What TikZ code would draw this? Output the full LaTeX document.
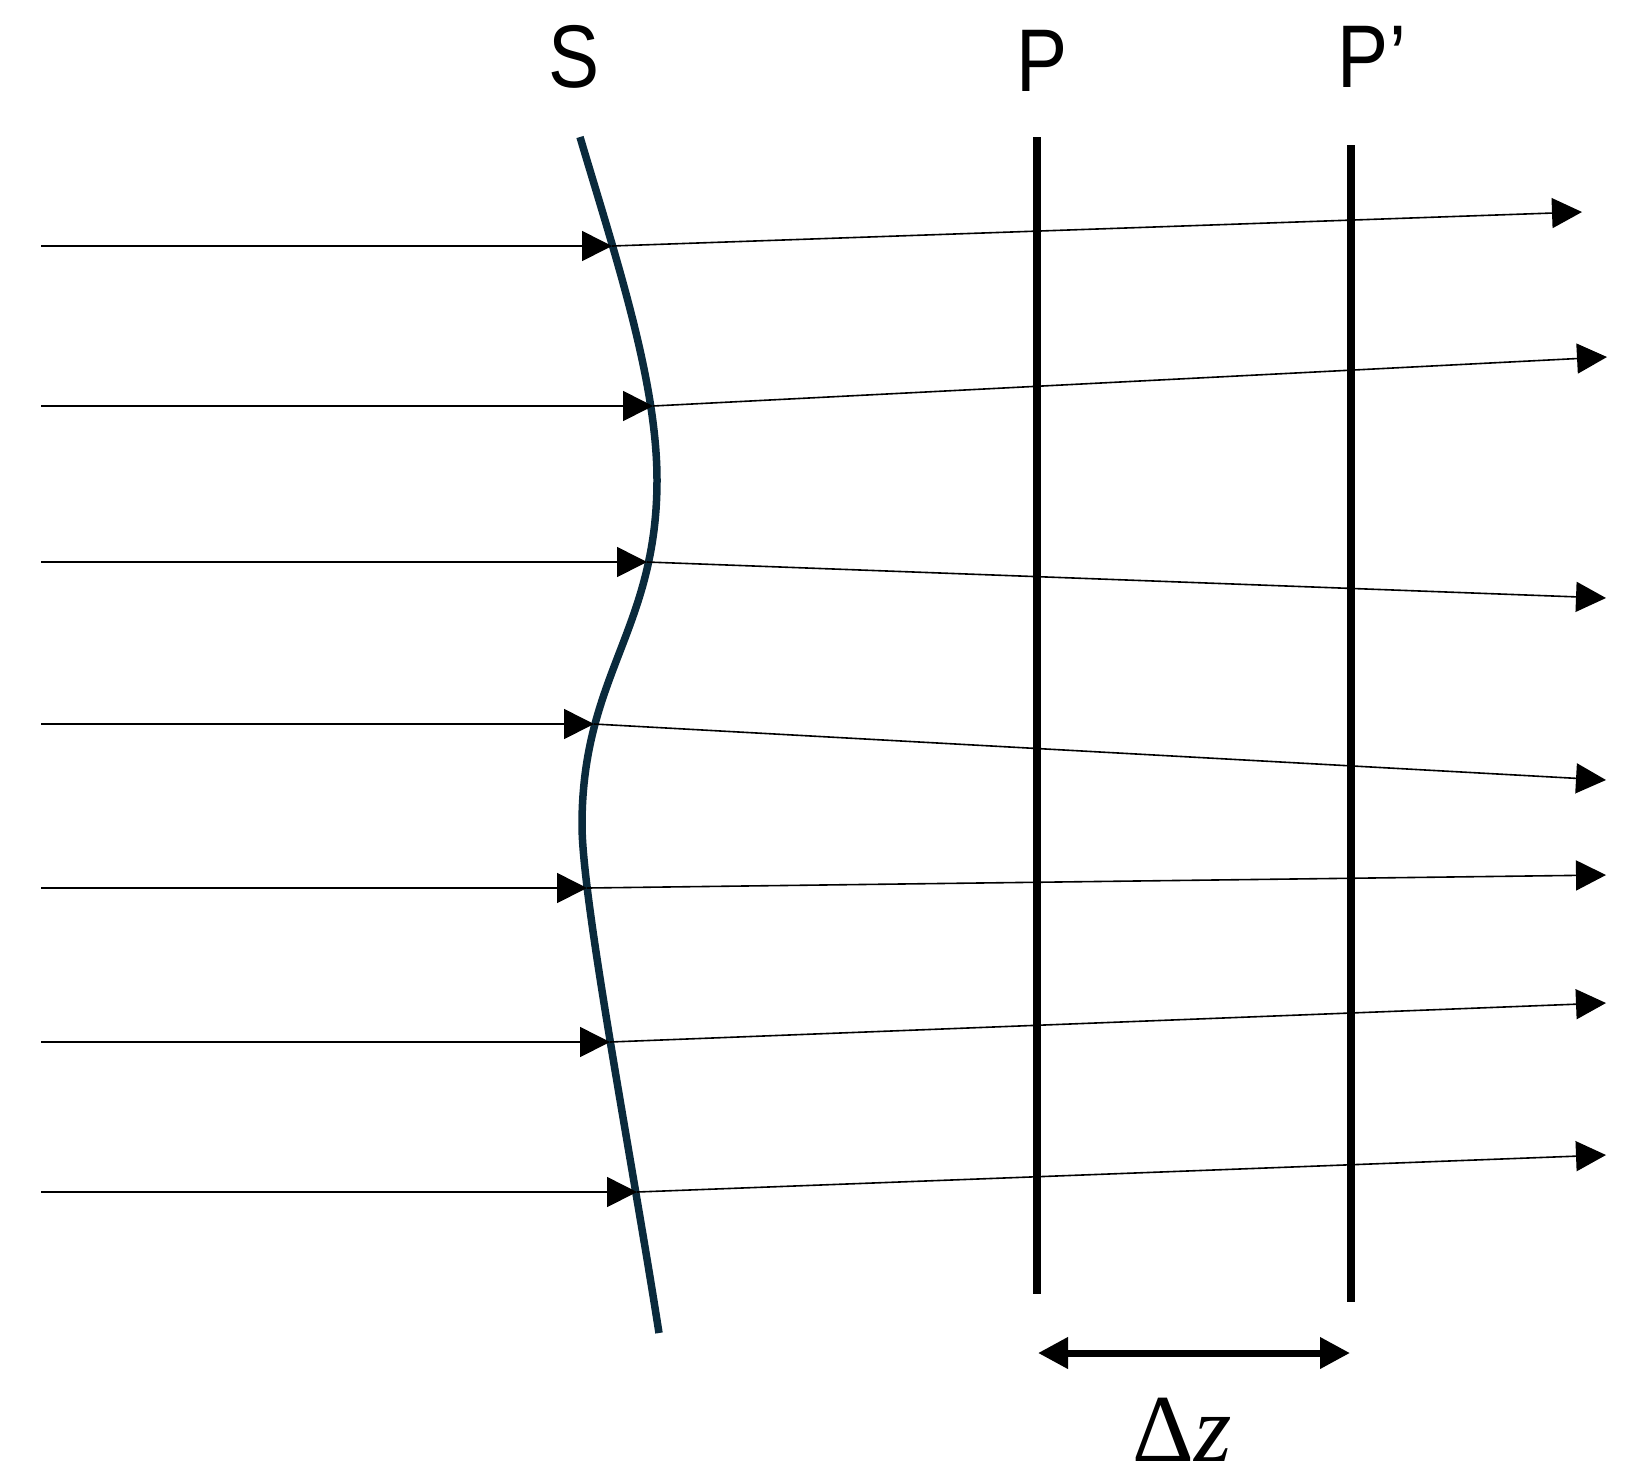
\documentclass[tikz,border=0pt]{standalone}
\usepackage{fontspec}
\newfontfamily\labelfont[FakeStretch=0.86]{Liberation Sans}
\newfontfamily\mathlikefont{Liberation Serif}
\usetikzlibrary{arrows.meta}
\definecolor{surfcol}{RGB}{10,42,60}
\tikzset{
  ray/.style={line width=1.6pt, black},
  rayin/.style={ray, -{Triangle[length=30pt,width=30pt]}},
  rayout/.style={ray, -{Triangle[length=30pt,width=30pt]}},
  plane/.style={line width=7.5pt, black},
  surf/.style={line width=7.5pt, surfcol},
  lbl/.style={font=\labelfont\fontsize{89}{100}\selectfont, inner sep=0pt},
  dz/.style={line width=7pt, {Triangle[length=30pt,width=30pt]}-{Triangle[length=30pt,width=30pt]}}
}
\begin{document}
\begin{tikzpicture}[x=1pt,y=-1pt]
\useasboundingbox (0,0) rectangle (1627,1481);
% surface S
\coordinate (sTop) at (580,137);
\coordinate (sPk) at (657,480);
\coordinate (sTr) at (582,825);
\coordinate (sBot) at (659,1333);
\draw[surf] (sTop) .. controls (615,255) and (657,380) .. (sPk)
  .. controls (657,630) and (582,675) .. (sTr)
  .. controls (582,900) and (632.5,1163) .. (sBot);
% planes
\coordinate (Ptop) at (1037,137);
\coordinate (Pbot) at (1037,1294);
\coordinate (Qtop) at (1351,145);
\coordinate (Qbot) at (1351,1302);
\draw[plane] (Ptop) -- (Pbot);
\draw[plane] (Qtop) -- (Qbot);
% labels
\node[lbl] (lS) at (574,57) {S};
\node[lbl] (lP) at (1042,61) {P};
\node[lbl] (lQ) at (1372,57) {P’};
% rays
\foreach \i/\y/\sx/\ox/\oy in {1/246/612/1582/212, 2/406/653/1607/357, 3/562/647/1606/598, 4/724/594/1606/780, 5/888/587/1606/875, 6/1042/610/1606/1003, 7/1192/637/1606/1155}{
  \coordinate (in\i) at (41,\y);
  \coordinate (s\i) at (\sx,\y);
  \coordinate (out\i) at (\ox,\oy);
  \draw[rayin] (in\i) -- (s\i);
  \draw[rayout] (s\i) -- (out\i);
}
% delta z
\coordinate (dzl) at (1038,1353);
\coordinate (dzr) at (1350,1353);
\draw[dz] (dzl) -- (dzr);
\node[inner sep=0pt, font=\mathlikefont\fontsize{96}{110}\selectfont] (ldz) at (1182,1430) {Δ\textit{z}};
\end{tikzpicture}
\end{document}
